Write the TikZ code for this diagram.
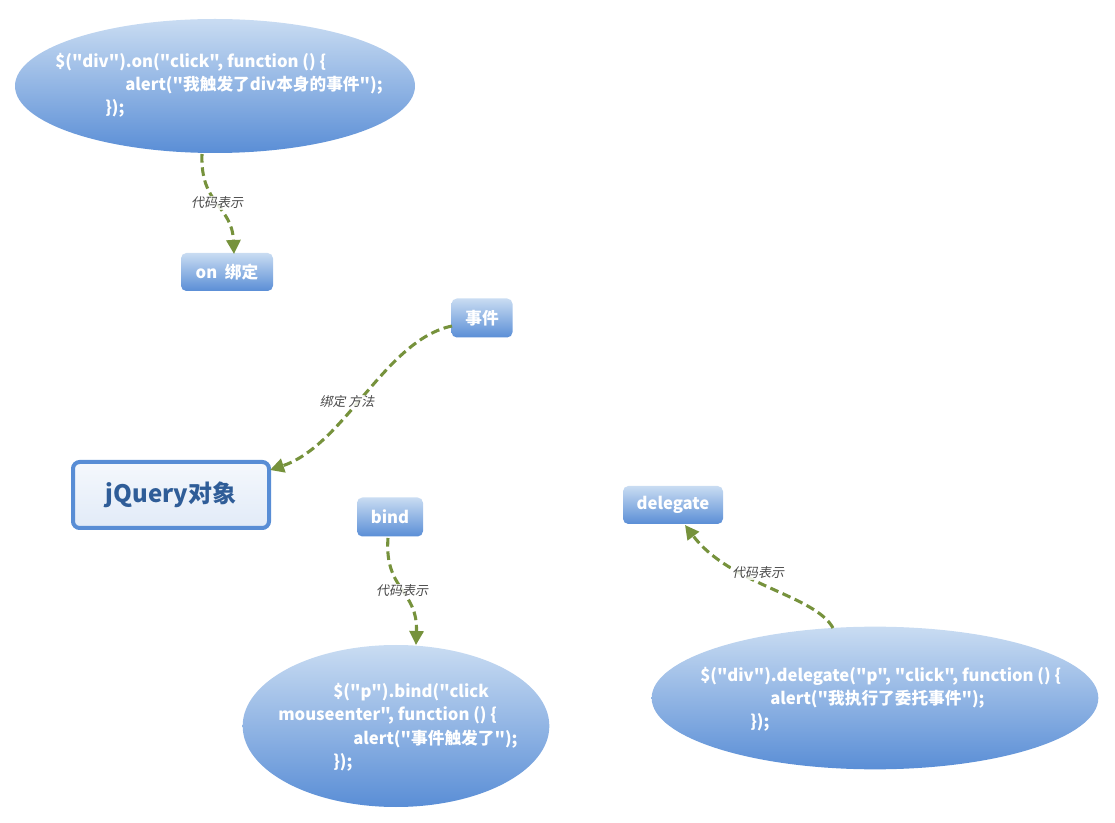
\documentclass[tikz,border=0pt]{standalone}
\usepackage{fontspec}
\setmainfont{Noto Sans CJK SC}[Ligatures=ResetAll]
\newfontfamily\codefont{Noto Sans CJK SC}
\newfontfamily\lblfont[FakeSlant=0.2]{Noto Sans CJK SC}
\usetikzlibrary{shapes.geometric,arrows.meta}
\definecolor{bluetop}{HTML}{C9DCF2}
\definecolor{bluebot}{HTML}{5A8ED6}
\definecolor{olive}{HTML}{76923C}
\definecolor{jqborder}{HTML}{588DD5}
\definecolor{jqtext}{HTML}{2F5D98}
\definecolor{lblgray}{HTML}{4A4A4A}
\tikzset{
  bluebox/.style={rectangle, rounded corners=4pt, top color=bluetop, bottom color=bluebot, draw=none,
     text=white, font=\codefont\bfseries\fontsize{12.5}{14}\selectfont, inner sep=0pt},
  blueell/.style={ellipse, top color=bluetop, bottom color=bluebot, draw=none, inner sep=0pt},
  codeline/.style={anchor=west, text=white, font=\codefont\bfseries\fontsize{12.5}{14}\selectfont, inner sep=0pt},
  conn/.style={draw=olive, line width=2.3pt, dash pattern=on 6.5pt off 3.5pt,
     -{Triangle[length=10.5pt,width=10.5pt]}},
  lbl/.style={font=\lblfont\fontsize{9.75}{11}\selectfont, text=lblgray, fill=white, fill opacity=0.85, text opacity=1, inner sep=1pt}
}
\begin{document}
\begin{tikzpicture}[x=0.75pt,y=-0.75pt]
\useasboundingbox (0,0) rectangle (1115,823);
% ellipses
\node[blueell, minimum width=300pt, minimum height=100.5pt] (e1) at (215,86) {};
\node[blueell, minimum width=230pt, minimum height=121.5pt] (e2) at (396,726) {};
\node[blueell, minimum width=335pt, minimum height=107pt] (e3) at (875,698) {};
% code text
\node[codeline] (t11) at (55,62) {\$("div").on("click", function () \{};
\node[codeline] (t12) at (125,85) {alert("我触发了div本身的事件");};
\node[codeline] (t13) at (105,108) {\});};
\node[codeline] (t21) at (333,692) {\$("p").bind("click};
\node[codeline] (t22) at (278,715) {mouseenter", function () \{};
\node[codeline] (t23) at (353,739) {alert("事件触发了");};
\node[codeline] (t24) at (333,762) {\});};
\node[codeline] (t31) at (700,676) {\$("div").delegate("p", "click", function () \{};
\node[codeline] (t32) at (770,699) {alert("我执行了委托事件");};
\node[codeline] (t33) at (750,722) {\});};
% boxes
\node[bluebox, minimum width=69pt, minimum height=28.5pt] (on) at (227,272) {on\ \ 绑定};
\node[bluebox, minimum width=45.75pt, minimum height=29.25pt] (ev) at (482,318) {事件};
\node[bluebox, minimum width=49.5pt, minimum height=29.25pt] (bind) at (390,517) {bind};
\node[bluebox, minimum width=75pt, minimum height=28.5pt] (del) at (673,505) {delegate};
\node[rectangle, rounded corners=5pt, draw=jqborder, line width=3pt, top color=white!94!jqborder, bottom color=white!82!jqborder,
  minimum width=147pt, minimum height=49.5pt, text=jqtext, font=\codefont\bfseries\fontsize{18}{20}\selectfont] (jq) at (171,495) {jQuery对象};
% connectors
\coordinate (a0) at (202,154);
\coordinate (a1) at (234,254);
\draw[conn] (a0) .. controls (200,205) and (232,205) .. (a1);
\node[lbl] (la) at (217,203) {代码表示};
\coordinate (b0) at (452,326);
\coordinate (b1) at (270,470);
\draw[conn] (b0) .. controls (385,340) and (345,445) .. (b1);
\node[lbl] (lb) at (347,402) {绑定 方法};
\coordinate (c0) at (388,538);
\coordinate (c1) at (416,645);
\draw[conn] (c0) .. controls (384,590) and (418,590) .. (c1);
\node[lbl] (lc) at (402,591) {代码表示};
\coordinate (d0) at (833,628);
\coordinate (d1) at (685,525);
\draw[conn] (d0) .. controls (815,595) and (730,585) .. (d1);
\node[lbl] (ld) at (758,573) {代码表示};
\end{tikzpicture}
\end{document}
